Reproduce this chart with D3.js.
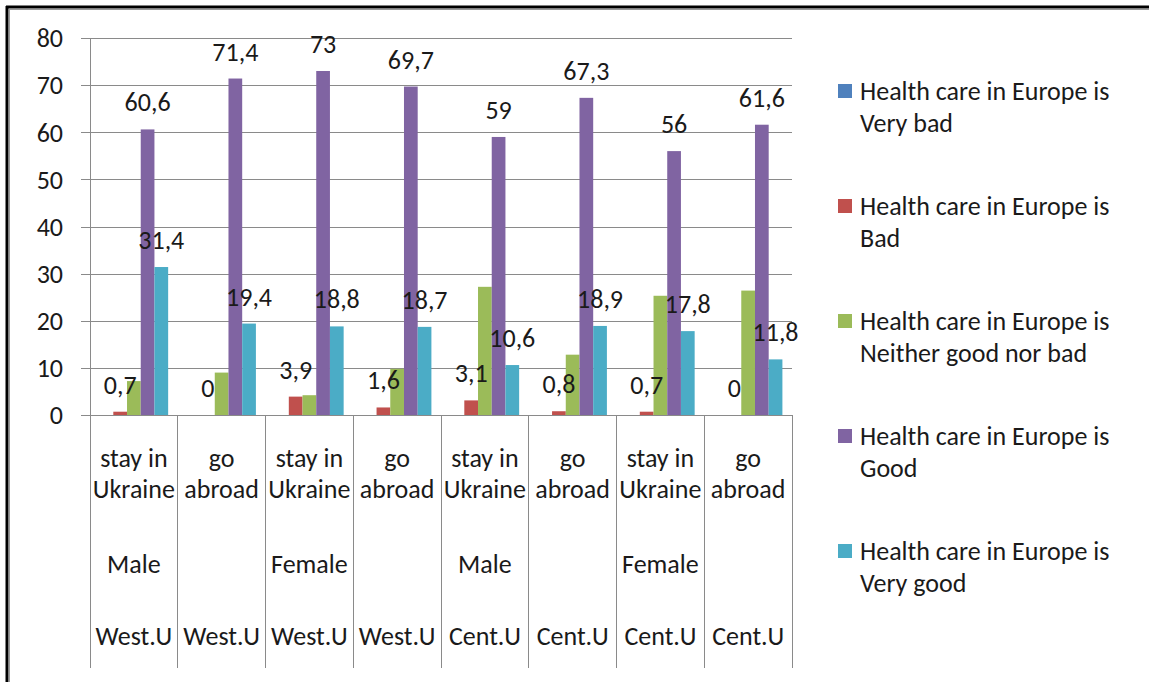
<!DOCTYPE html>
<html>
<head>
<meta charset="utf-8">
<script src="https://cdn.jsdelivr.net/npm/d3@7"></script>
<style>
  body { margin:0; background:#fff; }
  text { font-family: Carlito, Calibri, Lato, sans-serif; fill:#1a1a1a; }
</style>
</head>
<body>
<svg id="chart"></svg>
<script>
/*************** data *****************/
var actions = [["stay in","Ukraine"],["go","abroad"],["stay in","Ukraine"],["go","abroad"],
               ["stay in","Ukraine"],["go","abroad"],["stay in","Ukraine"],["go","abroad"]];
var genders = ["Male","","Female","","Male","","Female",""];
var regions = ["West.U","West.U","West.U","West.U","Cent.U","Cent.U","Cent.U","Cent.U"];

var seriesNames = ["Health care in Europe is Very bad",
                   "Health care in Europe is Bad",
                   "Health care in Europe is Neither good nor bad",
                   "Health care in Europe is Good",
                   "Health care in Europe is Very good"];
var seriesColors = ["#4F81BD","#C0504D","#9BBB59","#8064A2","#4BACC6"];

var veryBad  = [0, 0, 0, 0, 0, 0, 0, 0];
var bad      = [0.7, 0, 3.9, 1.6, 3.1, 0.8, 0.7, 0];
var neither  = [7.2, 9, 4.2, 9.8, 27.2, 12.8, 25.3, 26.4];
var good     = [60.6, 71.4, 73, 69.7, 59, 67.3, 56, 61.6];
var veryGood = [31.4, 19.4, 18.8, 18.7, 10.6, 18.9, 17.8, 11.8];

var seriesValues = [veryBad, bad, neither, good, veryGood];
var labelled = [false, true, false, true, true]; //only these series show data labels

var yTicks = [0,10,20,30,40,50,60,70,80];

/*************** settings *****************/
var width = 1149,
    height = 682,
    plot = {left:90, right:792, top:38, bottom:415},
    tableBottom = 668,
    fontSize = 26,
    gridColor = "#8a8a8a";

var svg = d3.select("#chart")
    .attr("width", width)
    .attr("height", height);

/*************** scales *****************/
var x = d3.scaleBand()
    .domain(d3.range(actions.length))
    .range([plot.left, plot.right])
    .padding(0);

var xInner = d3.scaleBand()
    .domain(d3.range(seriesNames.length))
    .range([0, x.bandwidth()])
    .paddingInner(0)
    .paddingOuter(0.7);

var y = d3.scaleLinear()
    .domain([0,80])
    .range([plot.bottom, plot.top]);

/*************** frame *****************/
svg.append("line").attr("x1",6).attr("x2",width).attr("y1",7).attr("y2",7)
    .attr("stroke","#000").attr("stroke-width",3);
svg.append("line").attr("x1",7).attr("x2",7).attr("y1",6).attr("y2",height)
    .attr("stroke","#000").attr("stroke-width",3);
svg.append("line").attr("x1",9).attr("x2",width).attr("y1",9.5).attr("y2",9.5)
    .attr("stroke","#999").attr("stroke-width",1);
svg.append("line").attr("x1",9.5).attr("x2",9.5).attr("y1",9).attr("y2",height)
    .attr("stroke","#999").attr("stroke-width",1);

/*************** grid + y axis *****************/
var yAxis = d3.axisLeft(y)
    .tickValues(yTicks)
    .tickSize(-(plot.right - plot.left))
    .tickFormat(d3.format("d"));

var gy = svg.append("g")
    .attr("transform","translate(" + plot.left + ",0)")
    .call(yAxis);
gy.select(".domain").remove();
gy.selectAll(".tick line")
    .attr("x1", -9)
    .attr("stroke", gridColor)
    .attr("shape-rendering","crispEdges");
gy.selectAll(".tick text")
    .attr("x", -27)
    .attr("dy","0.34em")
    .style("font-size", fontSize + "px")
    .style("font-family", null)
    .attr("fill","#1a1a1a");

// y axis line
svg.append("line")
    .attr("x1",plot.left).attr("x2",plot.left)
    .attr("y1",plot.top).attr("y2",plot.bottom)
    .attr("stroke",gridColor).attr("shape-rendering","crispEdges");

/*************** category table *****************/
var sep = d3.range(actions.length + 1).map(function(i){
    return i < actions.length ? x(i) : plot.right;
});
svg.append("g").selectAll("line")
    .data(sep)
    .join("line")
      .attr("x1", function(d){ return d; })
      .attr("x2", function(d){ return d; })
      .attr("y1", plot.bottom)
      .attr("y2", tableBottom)
      .attr("stroke", gridColor)
      .attr("shape-rendering","crispEdges");

var cat = svg.append("g").attr("class","categories")
    .selectAll("g")
    .data(d3.range(actions.length))
    .join("g")
      .attr("transform", function(i){ return "translate(" + (x(i) + x.bandwidth()/2) + ",0)"; })
      .style("font-size", fontSize + "px")
      .attr("text-anchor","middle");

cat.append("text").attr("y",467).text(function(i){ return actions[i][0]; });
cat.append("text").attr("y",498).text(function(i){ return actions[i][1]; });
cat.append("text").attr("y",573).text(function(i){ return genders[i]; });
cat.append("text").attr("y",645).text(function(i){ return regions[i]; });

/*************** bars *****************/
var barGroups = svg.append("g").attr("class","bars")
    .selectAll("g")
    .data(seriesValues)
    .join("g")
      .attr("fill", function(d,s){ return seriesColors[s]; });

barGroups.selectAll("rect")
    .data(function(d,s){ return d.map(function(v,i){ return {s:s, i:i, v:v}; }); })
    .join("rect")
      .attr("x", function(d){ return x(d.i) + xInner(d.s); })
      .attr("width", xInner.bandwidth())
      .attr("y", function(d){ return y(d.v); })
      .attr("height", function(d){ return y(0) - y(d.v); });

/*************** data labels *****************/
var labels = [];
seriesValues.forEach(function(vals,s){
    if (!labelled[s]) return;
    vals.forEach(function(v,i){ labels.push({s:s, i:i, v:v}); });
});

svg.append("g").attr("class","labels")
    .selectAll("text")
    .data(labels)
    .join("text")
      .attr("x", function(d){ return x(d.i) + xInner(d.s) + xInner.bandwidth()/2; })
      .attr("y", function(d){ return y(d.v) - 18; })
      .attr("text-anchor","middle")
      .style("font-size", fontSize + "px")
      .text(function(d){ return String(d.v).replace(".", ","); });

/*************** legend *****************/
var legend = svg.append("g").attr("class","legend")
    .selectAll("g")
    .data(seriesNames)
    .join("g")
      .attr("transform", function(d,i){ return "translate(838," + (91 + i*115) + ")"; });

legend.append("rect")
    .attr("x",0).attr("y",-7)
    .attr("width",14).attr("height",14)
    .attr("fill", function(d,i){ return seriesColors[i]; });

legend.append("text")
    .attr("x",22).attr("y",9)
    .style("font-size", fontSize + "px")
    .text(function(d){ return d.slice(0, d.indexOf(" is") + 3); });

legend.append("text")
    .attr("x",22).attr("y",41)
    .style("font-size", fontSize + "px")
    .text(function(d){ return d.slice(d.indexOf(" is") + 4); });
</script>
</body>
</html>
